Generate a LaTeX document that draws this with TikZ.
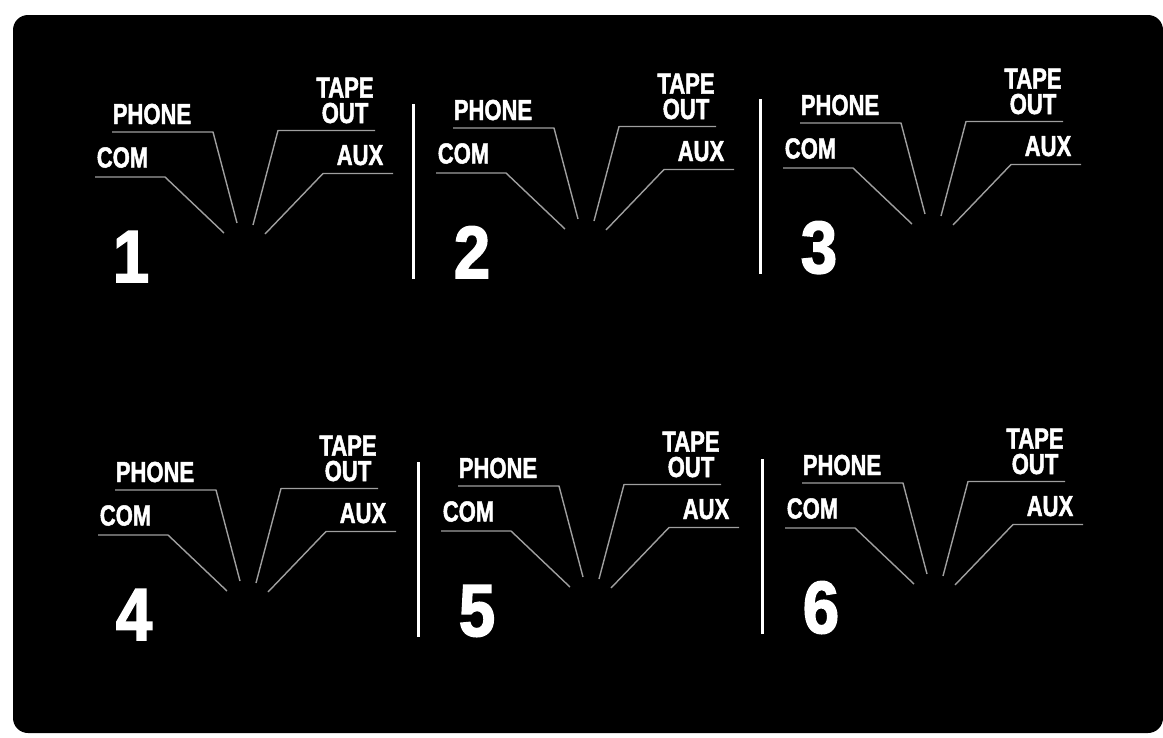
\documentclass[tikz,border=0pt]{standalone}
\usepackage{fontspec}
\newfontfamily\panelfont[FakeStretch=0.76,FakeBold=1.6]{Liberation Sans Bold}
\newfontfamily\digitfont[FakeStretch=0.88,FakeBold=2.2]{Liberation Sans Bold}
\usetikzlibrary{positioning}

\begin{document}
\begin{tikzpicture}[x=1pt, y=-1pt,
    lbl/.style={text=white, inner sep=0pt, anchor=base, font=\panelfont\fontsize{29}{25.5}\selectfont},
    digit/.style={text=white, inner sep=0pt, anchor=base, font=\digitfont\fontsize{74}{80}\selectfont},
    lead/.style={draw=gray!75, line width=1.4pt, line join=round},
    divider/.style={draw=white, line width=2.6pt}]
    % Page and black plate
    \fill[white] (0,0) rectangle (1163,737);
    \useasboundingbox (0,0) rectangle (1163,737);
    \fill[black, rounded corners=15pt] (13,15) rectangle (1163,733);

    % Six panels, origin at the left end of the PHONE leader
    \foreach \i/\ox/\oy in {1/112/132, 2/453/128, 3/800/123, 4/115/490, 5/458/486, 6/802/483}{
      \begin{scope}[shift={(\ox,\oy)}]
        % Labels
        \node[lbl] (phone\i) at (40,-8) {PHONE};
        \node[lbl] (com\i) at (10.5,35.5) {COM};
        \node[lbl, anchor=south, align=center] (tape\i) at (233,-8.5) {TAPE\\OUT};
        \node[lbl] (aux\i) at (248,33) {AUX};
        \node[digit] (num\i) at (19,150) {\i};

        % Leader corners and jack ends
        \coordinate (phoneL\i) at (0,0);
        \coordinate (phoneR\i) at (101,0);
        \coordinate (phoneJ\i) at (125,91);
        \coordinate (comL\i) at (-17,45);
        \coordinate (comR\i) at (53,45);
        \coordinate (comJ\i) at (112,101);
        \coordinate (tapeR\i) at (263,-1.5);
        \coordinate (tapeL\i) at (166,-1.5);
        \coordinate (tapeJ\i) at (141,93);
        \coordinate (auxR\i) at (281,41.5);
        \coordinate (auxL\i) at (211,41.5);
        \coordinate (auxJ\i) at (153,102);

        % Leaders
        \draw[lead] (phoneL\i) -- (phoneR\i) -- (phoneJ\i);
        \draw[lead] (comL\i) -- (comR\i) -- (comJ\i);
        \draw[lead] (tapeR\i) -- (tapeL\i) -- (tapeJ\i);
        \draw[lead] (auxR\i) -- (auxL\i) -- (auxJ\i);
      \end{scope}
    }

    % Dividers between panels
    \foreach \ox/\oy in {453/128, 800/123, 458/486, 802/483}
      \draw[divider] (\ox-39.5,\oy-24) -- (\ox-39.5,\oy+151);
\end{tikzpicture}
\end{document}
